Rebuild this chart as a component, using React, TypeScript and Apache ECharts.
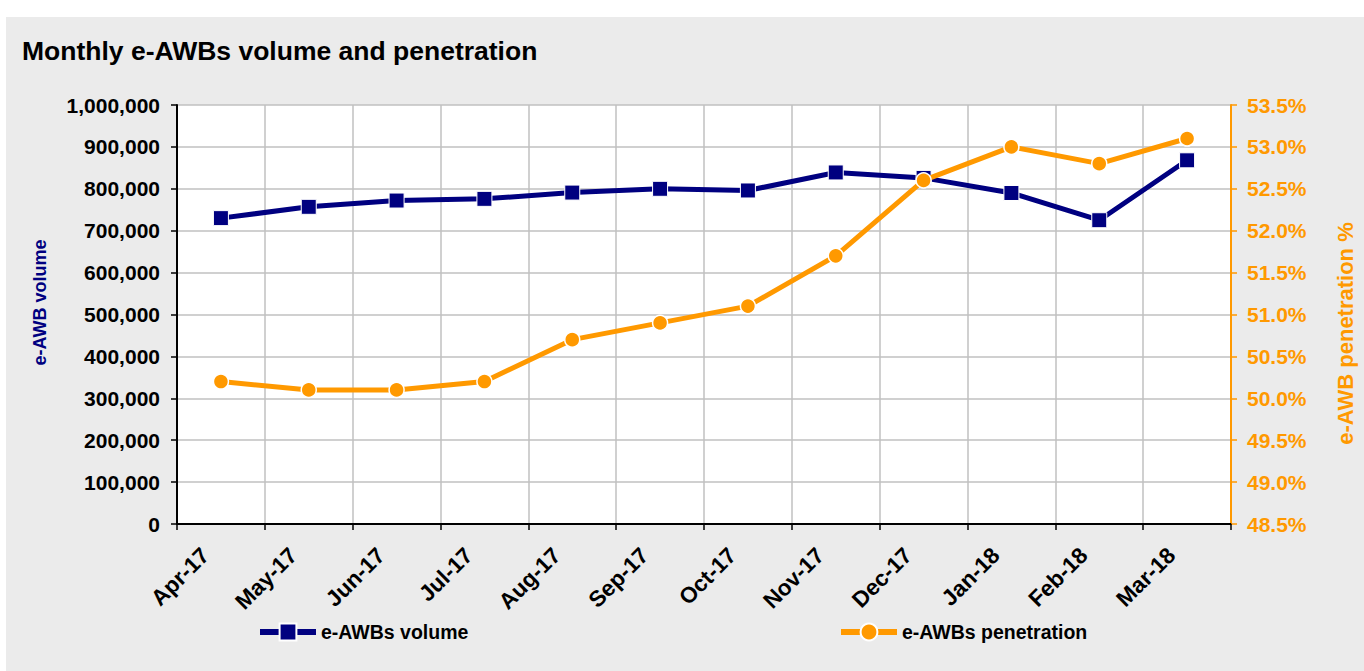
import React, { useEffect, useRef } from "react";
import * as echarts from "echarts";

const categories = ["Apr-17", "May-17", "Jun-17", "Jul-17", "Aug-17", "Sep-17", "Oct-17", "Nov-17", "Dec-17", "Jan-18", "Feb-18", "Mar-18"];
const volume = [730000, 757000, 772000, 776000, 791000, 800000, 796000, 839000, 826000, 790000, 725000, 868000];
const penetration = [50.2, 50.1, 50.1, 50.2, 50.7, 50.9, 51.1, 51.7, 52.6, 53.0, 52.8, 53.1];

const NAVY = "#000080";
const ORANGE = "#FF9900";
const FONT = "'Liberation Sans', Arial, sans-serif";

export default function App() {
  const ref = useRef<HTMLDivElement>(null);
  useEffect(() => {
    if (!ref.current) return;
    const chart = echarts.init(ref.current, undefined, { renderer: "svg" });
    const legendCommon = {
      padding: 0,
      itemWidth: 56,
      itemHeight: 21,
      lineStyle: { width: 6 },
      textStyle: { fontFamily: FONT, fontSize: 19.5, fontWeight: "bold", color: "#000" },
    };
    chart.setOption({
      animation: false,
      backgroundColor: "#EBEBEB",
      textStyle: { fontFamily: FONT },
      title: {
        text: "Monthly e-AWBs volume and penetration",
        left: 16,
        top: 20,
        padding: 0,
        textStyle: { fontFamily: FONT, fontSize: 26.5, fontWeight: "bold", color: "#000" },
      },
      legend: [
        { ...legendCommon, data: ["e-AWBs volume"], left: 251, top: 605 },
        { ...legendCommon, data: ["e-AWBs penetration"], left: 832, top: 605 },
      ],
      grid: {
        left: 171,
        top: 88,
        right: 128,
        bottom: 147,
        show: true,
        backgroundColor: "#FFFFFF",
        borderWidth: 0,
      },
      xAxis: {
        type: "category",
        data: categories,
        boundaryGap: true,
        axisLine: { show: true, lineStyle: { color: "#000", width: 2 } },
        axisTick: { show: true, interval: 0, length: 6, lineStyle: { color: "#000", width: 1.5 } },
        splitLine: { show: true, interval: 0, lineStyle: { color: "#C0C0C0", width: 1.5 } },
        axisLabel: {
          interval: 0,
          rotate: 45,
          margin: 12,
          align: "right",
          verticalAlign: "middle",
          fontFamily: FONT,
          fontSize: 22.5,
          fontWeight: "bold",
          color: "#000",
          formatter: (v: string) => `{c|${v}}`,
          rich: {
            c: {
              padding: [0, 22, 0, 0],
              fontFamily: FONT,
              fontSize: 22.5,
              fontWeight: "bold",
              color: "#000",
            },
          },
        },
      },
      yAxis: [
        {
          type: "value",
          min: 0,
          max: 1000000,
          interval: 100000,
          name: "e-AWB volume",
          nameLocation: "middle",
          nameGap: 128,
          nameTextStyle: { fontFamily: FONT, fontSize: 18, fontWeight: "bold", color: NAVY, padding: [0, 0, 0, 24] },
          axisLine: { show: true, lineStyle: { color: "#000", width: 2 } },
          axisTick: { show: true, length: 6, lineStyle: { color: "#000", width: 1.5 } },
          splitLine: { show: true, lineStyle: { color: "#C0C0C0", width: 1.5 } },
          axisLabel: {
            margin: 17,
            fontFamily: FONT,
            fontSize: 21,
            fontWeight: "bold",
            color: "#000",
            formatter: (v: number) => v.toLocaleString("en-US"),
          },
        },
        {
          type: "value",
          min: 48.5,
          max: 53.5,
          interval: 0.5,
          position: "right",
          name: "e-AWB penetration %",
          nameLocation: "middle",
          nameGap: 103,
          nameTextStyle: { fontFamily: FONT, fontSize: 22, fontWeight: "bold", color: ORANGE, padding: [0, 38, 0, 0] },
          axisLine: { show: true, lineStyle: { color: ORANGE, width: 2 } },
          axisTick: { show: true, length: 6, lineStyle: { color: ORANGE, width: 1.5 } },
          splitLine: { show: false },
          axisLabel: {
            margin: 16,
            fontFamily: FONT,
            fontSize: 21,
            fontWeight: "bold",
            color: ORANGE,
            formatter: (v: number) => v.toFixed(1) + "%",
          },
        },
      ],
      series: [
        {
          name: "e-AWBs volume",
          type: "line",
          yAxisIndex: 0,
          data: volume,
          symbol: "rect",
          symbolSize: 15,
          lineStyle: { color: NAVY, width: 5 },
          itemStyle: { color: NAVY, borderColor: "#FFFFFF", borderWidth: 1 },
          z: 3,
        },
        {
          name: "e-AWBs penetration",
          type: "line",
          yAxisIndex: 1,
          data: penetration,
          symbol: "circle",
          symbolSize: 15,
          lineStyle: { color: ORANGE, width: 5 },
          itemStyle: { color: ORANGE, borderColor: "#FFFFFF", borderWidth: 1.5 },
          z: 4,
        },
      ],
    });
    return () => chart.dispose();
  }, []);
  return (
    <div style={{ position: "absolute", left: 0, top: 0, width: 1364, height: 671, background: "#FFFFFF" }}>
      <div ref={ref} style={{ position: "absolute", left: 6, top: 17, width: 1358, height: 654 }} />
    </div>
  );
}
